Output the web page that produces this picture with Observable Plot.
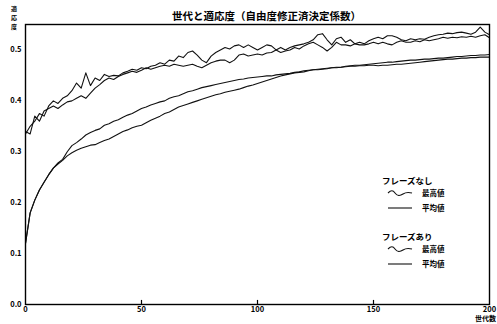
<!DOCTYPE html>
<html><head><meta charset="utf-8">
<script src="https://cdn.jsdelivr.net/npm/d3@7"></script>
<script src="https://cdn.jsdelivr.net/npm/@observablehq/plot@0.6"></script>
<style>
body{margin:0;background:#fff;}
#wrap{position:relative;width:497px;height:324px;overflow:hidden;font-family:"Noto Sans CJK JP","Noto Sans",sans-serif;}
.lg{position:absolute;font-weight:bold;color:#000;white-space:nowrap;line-height:1;}
.vch{position:absolute;left:0;font-size:6px;line-height:1;}
</style></head>
<body><div id="wrap"></div>
<script>
const title = "世代と適応度（自由度修正済決定係数）";
const yLabel = "適応度";
const xLabel = "世代数";
const xTicks = [0, 50, 100, 150, 200];
const yTicks = [0, 0.1, 0.2, 0.3, 0.4, 0.5];
const groupNames = ["フレーズなし", "フレーズあり"];
const statNames = ["最高値", "平均値"];

// generations 0,2,4,...,200
const gens = d3.range(0, 201, 2);

const maxA = [0.335,0.35,0.36,0.375,0.37,0.39,0.40,0.395,0.405,0.41,
0.42,0.435,0.425,0.455,0.43,0.445,0.44,0.452,0.448,0.45,
0.449,0.455,0.458,0.462,0.46,0.465,0.463,0.468,0.47,0.475,
0.472,0.48,0.478,0.488,0.485,0.495,0.498,0.49,0.48,0.475,
0.488,0.495,0.50,0.505,0.502,0.508,0.51,0.505,0.51,0.505,
0.50,0.505,0.51,0.508,0.50,0.505,0.50,0.505,0.508,0.51,
0.512,0.515,0.52,0.53,0.532,0.52,0.51,0.522,0.525,0.515,
0.52,0.512,0.515,0.512,0.518,0.522,0.525,0.522,0.528,0.528,
0.525,0.52,0.518,0.522,0.52,0.522,0.521,0.525,0.528,0.53,
0.531,0.533,0.532,0.534,0.535,0.533,0.531,0.535,0.545,0.535,0.53];

const maxB = [0.34,0.335,0.37,0.36,0.38,0.385,0.39,0.385,0.392,0.398,
0.40,0.405,0.41,0.405,0.415,0.425,0.432,0.44,0.445,0.442,
0.448,0.452,0.455,0.458,0.456,0.46,0.465,0.462,0.465,0.468,
0.47,0.468,0.472,0.47,0.468,0.47,0.472,0.468,0.465,0.47,
0.475,0.478,0.48,0.48,0.475,0.48,0.49,0.492,0.488,0.49,
0.492,0.49,0.494,0.495,0.50,0.495,0.498,0.50,0.505,0.502,
0.508,0.512,0.515,0.51,0.505,0.498,0.505,0.515,0.51,0.51,
0.508,0.512,0.51,0.51,0.512,0.515,0.512,0.515,0.512,0.51,
0.515,0.518,0.515,0.515,0.518,0.516,0.52,0.518,0.52,0.522,
0.525,0.523,0.525,0.524,0.526,0.525,0.527,0.525,0.528,0.53,0.524];

const meanA = [0.12,0.18,0.205,0.225,0.24,0.255,0.268,0.278,0.285,0.30,
0.312,0.318,0.325,0.333,0.338,0.342,0.345,0.352,0.355,0.36,
0.363,0.368,0.372,0.375,0.38,0.385,0.388,0.392,0.395,0.398,
0.40,0.405,0.408,0.41,0.414,0.418,0.42,0.423,0.426,0.428,
0.43,0.432,0.434,0.436,0.438,0.44,0.442,0.443,0.445,0.446,
0.447,0.448,0.449,0.449,0.451,0.452,0.453,0.454,0.456,0.457,
0.459,0.46,0.461,0.462,0.463,0.464,0.465,0.465,0.466,0.468,
0.469,0.47,0.47,0.471,0.472,0.473,0.474,0.475,0.476,0.476,
0.477,0.478,0.479,0.48,0.48,0.481,0.482,0.482,0.483,0.484,
0.484,0.485,0.486,0.487,0.487,0.488,0.489,0.489,0.49,0.49,0.491];

const meanB = [0.12,0.18,0.205,0.225,0.24,0.255,0.268,0.276,0.283,0.292,
0.298,0.303,0.307,0.31,0.313,0.314,0.318,0.322,0.325,0.33,
0.335,0.34,0.343,0.347,0.35,0.352,0.357,0.362,0.366,0.37,
0.375,0.378,0.383,0.388,0.391,0.394,0.397,0.40,0.403,0.406,
0.409,0.412,0.414,0.417,0.419,0.421,0.423,0.426,0.429,0.431,
0.434,0.437,0.44,0.443,0.446,0.449,0.451,0.453,0.455,0.456,
0.457,0.459,0.461,0.461,0.462,0.463,0.465,0.466,0.466,0.467,
0.468,0.468,0.469,0.469,0.47,0.47,0.469,0.47,0.47,0.471,
0.472,0.472,0.473,0.474,0.475,0.476,0.477,0.478,0.479,0.48,
0.481,0.482,0.482,0.483,0.484,0.484,0.485,0.485,0.486,0.486,0.486];

const series = [
  {name: groupNames[0] + statNames[0], values: maxA},
  {name: groupNames[1] + statNames[0], values: maxB},
  {name: groupNames[0] + statNames[1], values: meanA},
  {name: groupNames[1] + statNames[1], values: meanB}
];
const rows = series.flatMap(s => s.values.map((v, i) => ({g: gens[i], v, s: s.name})));

const font = "'Noto Sans CJK JP','DejaVu Sans',sans-serif";
const chart = Plot.plot({
  width: 497, height: 324,
  marginTop: 24, marginBottom: 20, marginLeft: 25, marginRight: 8,
  style: {fontFamily: font, background: "#fff", color: "#000"},
  x: {domain: [0, 200]},
  y: {domain: [0, 0.55]},
  marks: [
    Plot.line(rows, {x: "g", y: "v", z: "s", stroke: "#111", strokeWidth: 1.1, curve: "linear"}),
    Plot.frame({stroke: "#000", strokeWidth: 1.4}),
    Plot.ruleX(xTicks.slice(1, -1), {y1: 0, y2: 0.008, stroke: "#000", strokeWidth: 1.2}),
    Plot.axisX(xTicks, {tickSize: 0, tickPadding: 2, fontSize: 7.5, fontWeight: "bold", label: null, tickFormat: d => String(d)}),
    Plot.axisY(yTicks, {tickSize: 0, tickPadding: 4, fontSize: 7.5, fontWeight: "bold", label: null, tickFormat: d3.format(".1f")}),
    Plot.text([title], {frameAnchor: "top", dx: 9, dy: -12, fontSize: 10.5, fontWeight: "bold"})
  ]
});
const wrap = document.getElementById("wrap");
wrap.appendChild(chart);

function addText(txt, x, y, size) {
  const d = document.createElement("div");
  d.className = "lg"; d.textContent = txt;
  d.style.left = x + "px"; d.style.top = y + "px"; d.style.fontSize = size + "px";
  wrap.appendChild(d);
  return d;
}
// stacked y-axis label, one character per row
[...yLabel].forEach((ch, i) => {
  const d = addText(ch, 11, 6 + i * 9, 6);
});
// x-axis label under "200"
const xl = addText(xLabel, 0, 315, 7);
xl.style.left = "auto"; xl.style.right = "1px";

// legend
function addSample(wavy, x, y) {
  const ns = "http://www.w3.org/2000/svg";
  const s = document.createElementNS(ns, "svg");
  s.setAttribute("width", 28); s.setAttribute("height", 8);
  s.style.position = "absolute"; s.style.left = x + "px"; s.style.top = (y - 4) + "px";
  const p = document.createElementNS(ns, "path");
  p.setAttribute("d", wavy ? "M1,4 C4,1 6,1 8,4 S13,7 16,5 S21,3 25,4" : "M1,4 L25,4");
  p.setAttribute("fill", "none"); p.setAttribute("stroke", "#111"); p.setAttribute("stroke-width", "1.1");
  s.appendChild(p); wrap.appendChild(s);
}
const lgY = [181, 237];
groupNames.forEach((gname, gi) => {
  const y0 = lgY[gi];
  addText(gname, 382, y0 - 5, 8.5);
  statNames.forEach((sn, si) => {
    const yy = y0 + 12 + si * 15;
    addSample(si === 0, 387, yy);
    addText(sn, 422, yy - 4, 7.5);
  });
});
</script></body></html>
